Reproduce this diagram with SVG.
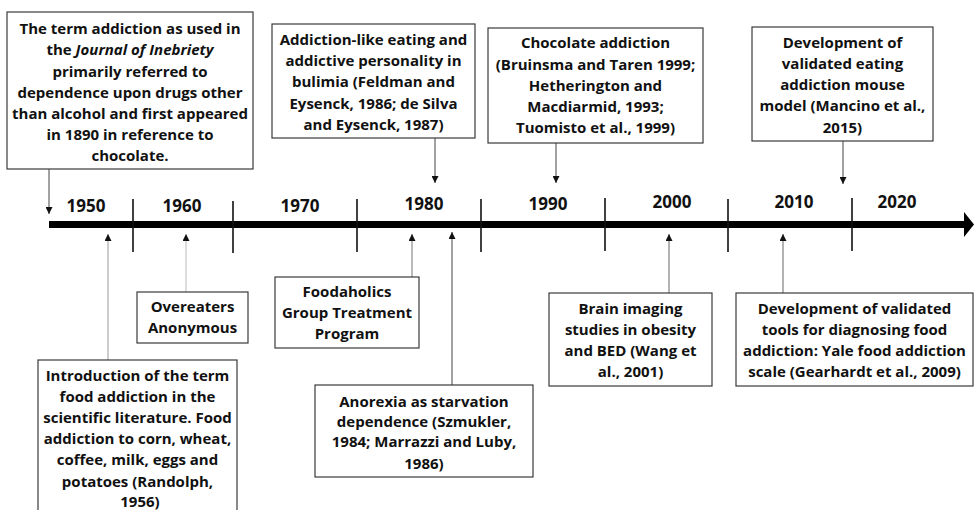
<svg xmlns="http://www.w3.org/2000/svg" width="974" height="510" viewBox="0 0 974 510">
  <style>
    .box { fill: #ffffff; stroke: #3a3a3a; stroke-width: 1.2; }
    .txt { font-family: "Open Sans", "Noto Sans", sans-serif; font-weight: bold; font-size: 15px; fill: #111; text-anchor: middle; }
    .year { font-family: "Open Sans", "Noto Sans", sans-serif; font-weight: bold; font-size: 17px; fill: #111; text-anchor: middle; }
    .lead { fill: none; stroke: #444; stroke-width: 1; }
    .tick { stroke: #111; stroke-width: 1.6; }
  </style>
  <defs>
    <marker id="tip" viewBox="0 0 8 8" refX="8" refY="4" markerWidth="7" markerHeight="7" markerUnits="userSpaceOnUse" orient="auto">
      <path d="M0,0 L8,4 L0,8 Z" fill="#111"/>
    </marker>
  </defs>

  <!-- time axis -->
  <g id="axis">
    <rect x="49" y="221" width="917" height="7" fill="#000"/>
    <path d="M964,212 L974,224.5 L964,237 Z" fill="#000"/>
    <line class="tick" x1="133" y1="199" x2="133" y2="252"/>
    <line class="tick" x1="233" y1="201" x2="233" y2="253"/>
    <line class="tick" x1="357" y1="199" x2="357" y2="252"/>
    <line class="tick" x1="481" y1="199" x2="481" y2="252"/>
    <line class="tick" x1="605" y1="198" x2="605" y2="251"/>
    <line class="tick" x1="728" y1="199" x2="728" y2="252"/>
    <line class="tick" x1="852" y1="198" x2="852" y2="251"/>
    <text class="year" x="86" y="212">1950</text>
    <text class="year" x="182" y="212">1960</text>
    <text class="year" x="300" y="212">1970</text>
    <text class="year" x="424" y="210">1980</text>
    <text class="year" x="548" y="210">1990</text>
    <text class="year" x="672" y="208">2000</text>
    <text class="year" x="794" y="208">2010</text>
    <text class="year" x="897" y="208">2020</text>
  </g>

  <!-- connectors -->
  <g id="connectors">
    <line class="lead" x1="49" y1="169" x2="49" y2="214" marker-end="url(#tip)"/>
    <line class="lead" x1="435" y1="138" x2="435" y2="183" marker-end="url(#tip)"/>
    <line class="lead" x1="556" y1="143" x2="556" y2="183" marker-end="url(#tip)"/>
    <line class="lead" x1="843" y1="141" x2="843" y2="184" marker-end="url(#tip)"/>
    <line class="lead" x1="108" y1="360" x2="108" y2="234" marker-end="url(#tip)" style="stroke:#999"/>
    <line class="lead" x1="186" y1="292" x2="186" y2="234" marker-end="url(#tip)" style="stroke:#bbb"/>
    <line class="lead" x1="412" y1="277" x2="412" y2="234" marker-end="url(#tip)" style="stroke:#777"/>
    <line class="lead" x1="452" y1="385" x2="452" y2="232" marker-end="url(#tip)"/>
    <line class="lead" x1="669" y1="293" x2="669" y2="234" marker-end="url(#tip)" style="stroke:#666"/>
    <line class="lead" x1="783" y1="293" x2="783" y2="234" marker-end="url(#tip)" style="stroke:#666"/>
  </g>

  <!-- events above the axis -->
  <g id="inebriety">
    <rect class="box" x="7" y="12" width="246" height="157"/>
    <text class="txt" x="130" y="34">The term addiction as used in</text>
    <text class="txt" x="130" y="55">the <tspan font-style="italic">Journal of Inebriety</tspan></text>
    <text class="txt" x="130" y="77">primarily referred to</text>
    <text class="txt" x="130" y="98">dependence upon drugs other</text>
    <text class="txt" x="130" y="119">than alcohol and first appeared</text>
    <text class="txt" x="130" y="140">in 1890 in reference to</text>
    <text class="txt" x="130" y="161">chocolate.</text>
  </g>

  <g id="bulimia">
    <rect class="box" x="272" y="24" width="203" height="114"/>
    <text class="txt" x="373.5" y="45">Addiction-like eating and</text>
    <text class="txt" x="373.5" y="66">addictive personality in</text>
    <text class="txt" x="373.5" y="87">bulimia (Feldman and</text>
    <text class="txt" x="373.5" y="109">Eysenck, 1986; de Silva</text>
    <text class="txt" x="373.5" y="130">and Eysenck, 1987)</text>
  </g>

  <g id="chocolate">
    <rect class="box" x="488" y="28" width="215" height="115"/>
    <text class="txt" x="595.5" y="48">Chocolate addiction</text>
    <text class="txt" x="595.5" y="70">(Bruinsma and Taren 1999;</text>
    <text class="txt" x="595.5" y="91">Hetherington and</text>
    <text class="txt" x="595.5" y="112">Macdiarmid, 1993;</text>
    <text class="txt" x="595.5" y="133">Tuomisto et al., 1999)</text>
  </g>

  <g id="mouse-model">
    <rect class="box" x="752" y="27" width="181" height="114"/>
    <text class="txt" x="842.5" y="48">Development of</text>
    <text class="txt" x="842.5" y="69">validated eating</text>
    <text class="txt" x="842.5" y="90">addiction mouse</text>
    <text class="txt" x="842.5" y="111">model (Mancino et al.,</text>
    <text class="txt" x="842.5" y="133">2015)</text>
  </g>

  <!-- events below the axis -->
  <g id="randolph">
    <rect class="box" x="38" y="360" width="199" height="160"/>
    <text class="txt" x="137.5" y="381">Introduction of the term</text>
    <text class="txt" x="137.5" y="402">food addiction in the</text>
    <text class="txt" x="137.5" y="423">scientific literature. Food</text>
    <text class="txt" x="137.5" y="444">addiction to corn, wheat,</text>
    <text class="txt" x="137.5" y="465">coffee, milk, eggs and</text>
    <text class="txt" x="137.5" y="487">potatoes (Randolph,</text>
    <text class="txt" x="140" y="507">1956)</text>
  </g>

  <g id="overeaters">
    <rect class="box" x="137" y="292" width="111" height="51"/>
    <text class="txt" x="192.5" y="312">Overeaters</text>
    <text class="txt" x="192.5" y="333">Anonymous</text>
  </g>

  <g id="foodaholics">
    <rect class="box" x="275" y="277" width="144" height="71"/>
    <text class="txt" x="347" y="297">Foodaholics</text>
    <text class="txt" x="347" y="318">Group Treatment</text>
    <text class="txt" x="347" y="339">Program</text>
  </g>

  <g id="anorexia">
    <rect class="box" x="315" y="385" width="218" height="92"/>
    <text class="txt" x="424" y="407">Anorexia as starvation</text>
    <text class="txt" x="424" y="427">dependence (Szmukler,</text>
    <text class="txt" x="424" y="447">1984; Marrazzi and Luby,</text>
    <text class="txt" x="424" y="469">1986)</text>
  </g>

  <g id="brain-imaging">
    <rect class="box" x="549" y="293" width="163" height="93"/>
    <text class="txt" x="630.5" y="314">Brain imaging</text>
    <text class="txt" x="630.5" y="335">studies in obesity</text>
    <text class="txt" x="630.5" y="356">and BED (Wang et</text>
    <text class="txt" x="630.5" y="377">al., 2001)</text>
  </g>

  <g id="yale-scale">
    <rect class="box" x="736" y="293" width="237" height="93"/>
    <text class="txt" x="854.5" y="314">Development of validated</text>
    <text class="txt" x="854.5" y="335">tools for diagnosing food</text>
    <text class="txt" x="854.5" y="356">addiction: Yale food addiction</text>
    <text class="txt" x="854.5" y="377">scale (Gearhardt et al., 2009)</text>
  </g>
</svg>
